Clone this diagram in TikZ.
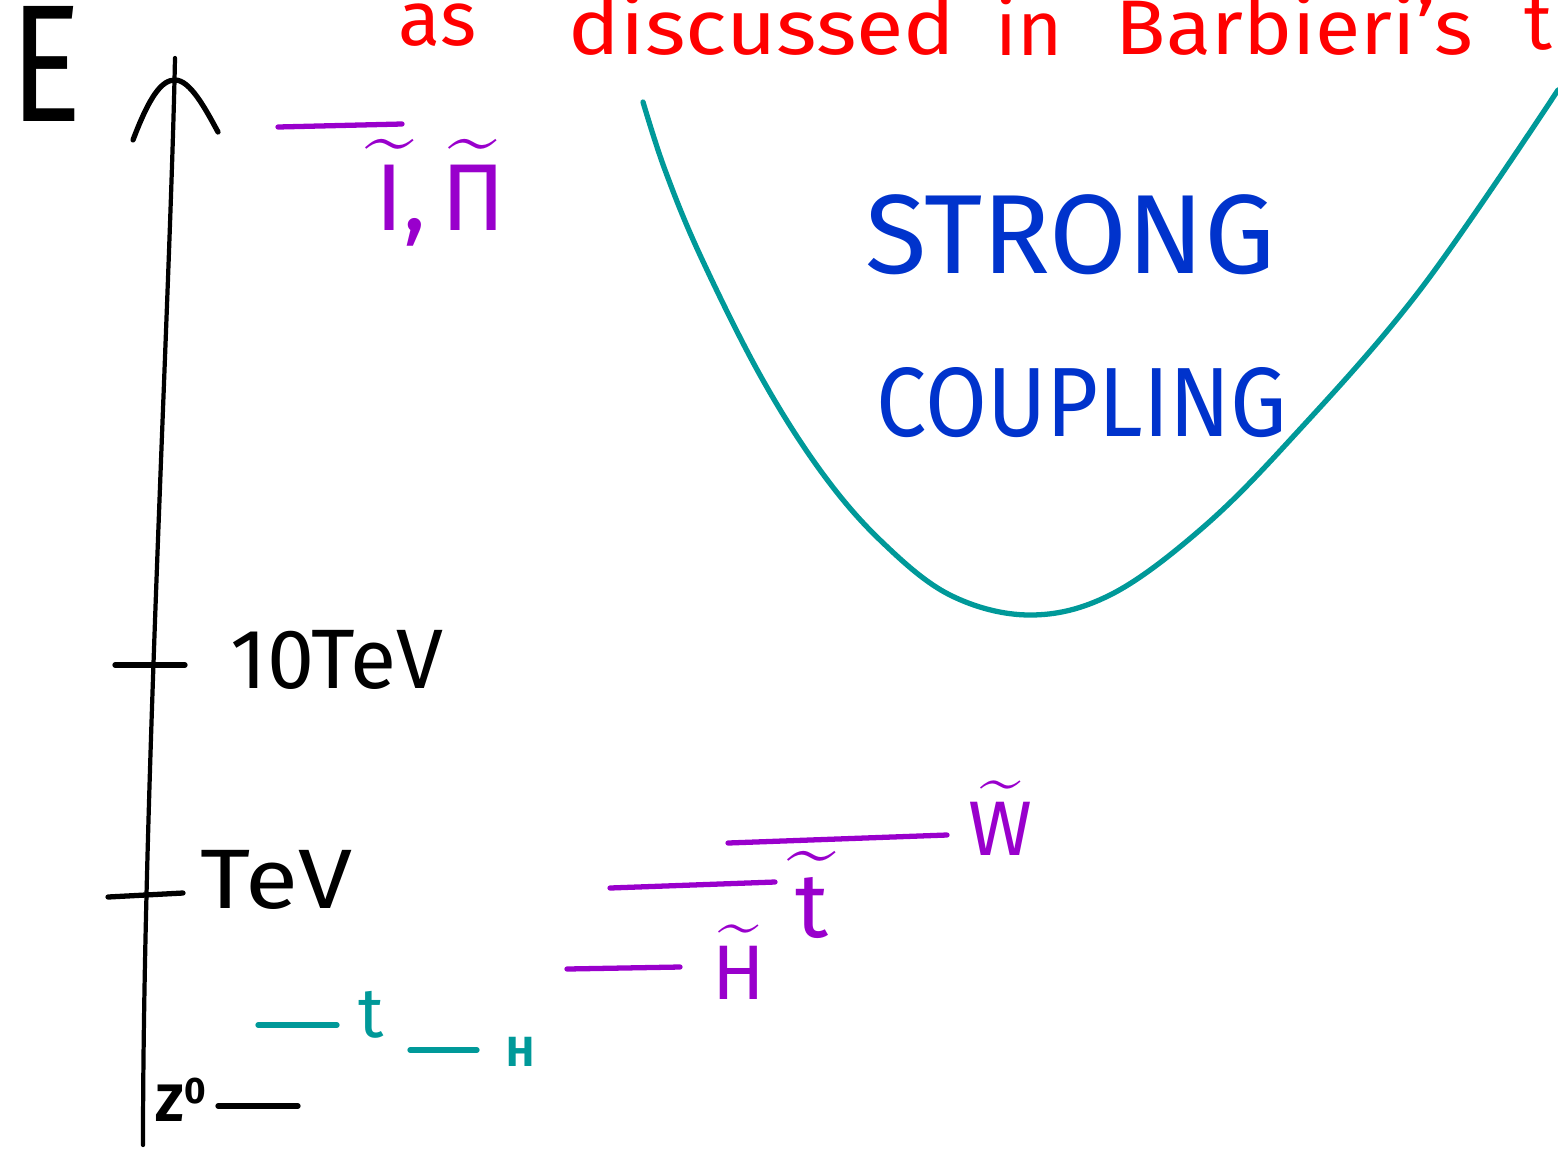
\documentclass[tikz,border=0pt]{standalone}
\usepackage{amsmath}
\usepackage{fontspec}
\setmainfont{Fira Sans}
\usetikzlibrary{positioning}
\definecolor{lvlpurple}{RGB}{153,0,204}
\definecolor{curveteal}{RGB}{0,153,153}
\definecolor{strongblue}{RGB}{0,51,204}
\definecolor{notered}{RGB}{255,0,0}
\tikzset{
    pen/.style={line width=1.5pt, line cap=round}, % hand-drawn strokes
    lvl/.style={pen, lvlpurple}, % superpartner levels
    smlvl/.style={pen, curveteal}, % SM levels
    lbl/.style={anchor=west, inner sep=0pt},
    note/.style={lbl, notered, font=\fontsize{22}{24}\selectfont},
}
\begin{document}
\begin{tikzpicture}[x=0.01cm, y=-0.01cm]
  \useasboundingbox (0,0) rectangle (1558,1151);
  \clip (0,0) rectangle (1558,1151);

  % energy axis
  \coordinate (ax0) at (143,1145);
  \coordinate (ax1) at (175,58);
  \draw[pen, line width=1.2pt] (ax0) .. controls (143,800) and (170,300) .. (ax1);
  \draw[pen] (133,140) .. controls (150,95) and (162,80) .. (175,80)
             .. controls (190,80) and (205,108) .. (218,132);
  \node[yscale=1.25, font=\fontsize{38}{40}\selectfont] (e) at (46,64) {E};

  % ticks
  \coordinate (t10a) at (115,665);
  \coordinate (t10b) at (185,665);
  \draw[pen] (t10a) -- (t10b);
  \node[lbl, font=\fontsize{24}{26}\selectfont] (tentev) at (230,660) {10TeV};
  \coordinate (t1a) at (108,897);
  \coordinate (t1b) at (183,893);
  \draw[pen] (t1a) -- (t1b);
  \node[lbl, xscale=1.15, font=\fontsize{24}{26}\selectfont] (tev) at (200,880) {TeV};

  % Z
  \node[lbl, font=\fontsize{15}{17}\selectfont\bfseries] (z) at (155,1100) {Z\textsuperscript{0}};
  \coordinate (za) at (218,1106);
  \coordinate (zb) at (298,1106);
  \draw[pen] (za) -- (zb);

  % SM levels
  \coordinate (ta) at (258,1025);
  \coordinate (tb) at (337,1025);
  \draw[smlvl] (ta) -- (tb);
  \node[lbl, curveteal, font=\fontsize{20}{22}\selectfont] (t) at (358,1015) {t};
  \coordinate (ha) at (410,1050);
  \coordinate (hb) at (477,1050);
  \draw[smlvl] (ha) -- (hb);
  \node[lbl, curveteal, font=\fontsize{12}{14}\selectfont\bfseries] (h) at (506,1052) {H};

  % superpartner levels
  \coordinate (hta) at (567,969);
  \coordinate (htb) at (680,967);
  \draw[lvl] (hta) -- (htb);
  \node[lbl, lvlpurple, font=\fontsize{22}{24}\selectfont] (htil) at (712,962) {$\widetilde{\text{H}}$};
  \coordinate (sta) at (610,888);
  \coordinate (stb) at (775,882);
  \draw[lvl] (sta) -- (stb);
  \node[lbl, lvlpurple, font=\fontsize{26}{28}\selectfont] (ttil) at (795,895) {$\widetilde{\text{t}}$};
  \coordinate (wa) at (728,843);
  \coordinate (wb) at (947,835);
  \draw[lvl] (wa) -- (wb);
  \node[lbl, lvlpurple, font=\fontsize{22}{24}\selectfont] (wtil) at (968,818) {$\widetilde{\text{W}}$};
  \coordinate (ia) at (278,127);
  \coordinate (ib) at (402,124);
  \draw[lvl] (ia) -- (ib);
  \node[lbl, lvlpurple, font=\fontsize{27}{29}\selectfont] (ipi) at (375,193) {$\widetilde{\text{I}}\text{,}\,\widetilde{\text{Π}}$};

  % strong coupling region
  \draw[pen, curveteal] plot[smooth, tension=0.6] coordinates {
    (643,102) (665,170) (700,255) (760,375) (820,470) (880,540)
    (950,595) (1030,615) (1110,595) (1200,530) (1290,440) (1420,290) (1558,90)};
  \node[strongblue, font=\fontsize{32}{34}\selectfont] (strong) at (1070,235) {STRONG};
  \node[strongblue, xscale=0.91, font=\fontsize{28}{30}\selectfont] (coupling) at (1082,403) {COUPLING};

  % note at the top, cut by the frame
  \node[note] (as) at (398,25) {as};
  \node[note, xscale=1.12] (disc) at (568,25) {discussed};
  \node[note] (in) at (995,25) {in};
  \node[note, xscale=1.07] (barb) at (1115,25) {Barbieri's};
  \node[note] (talk) at (1524,25) {t};
\end{tikzpicture}
\end{document}
